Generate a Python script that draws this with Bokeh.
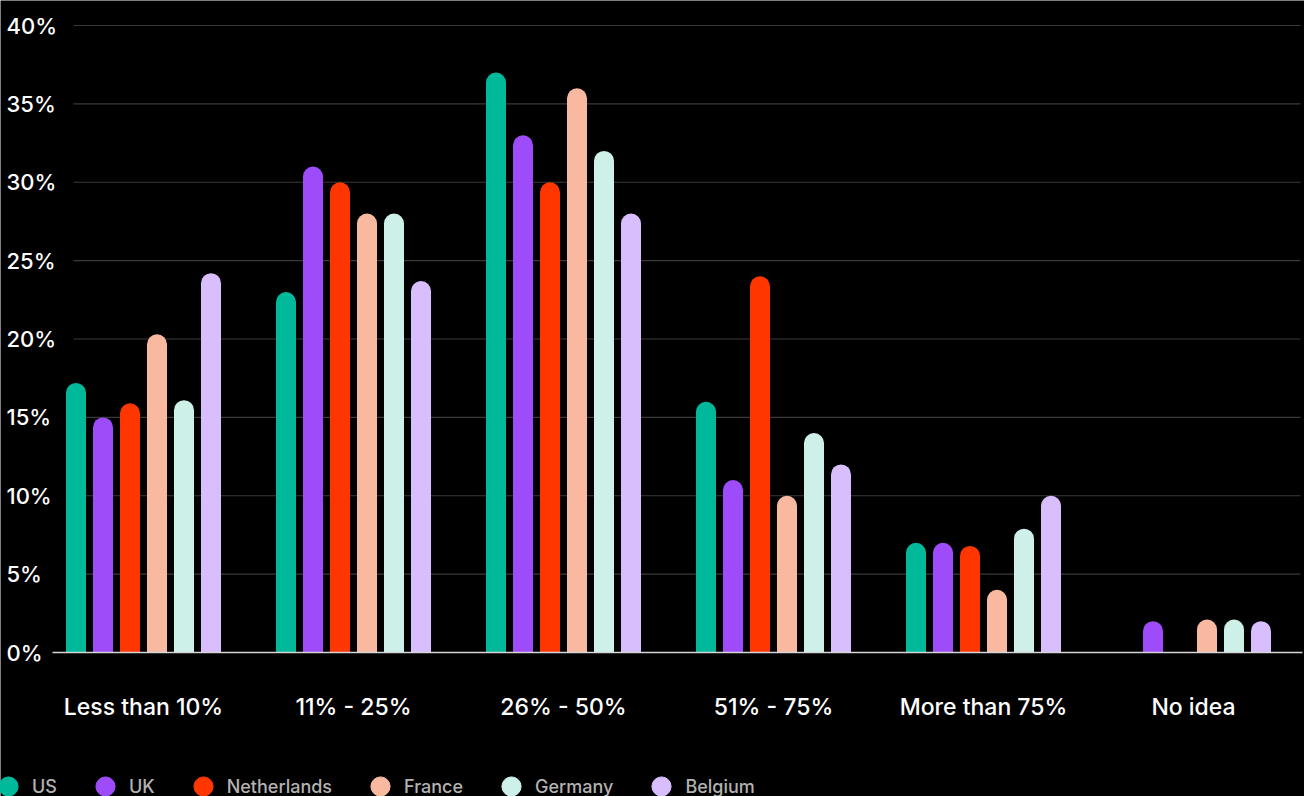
from bokeh.plotting import figure
from bokeh.models import (ColumnDataSource, Range1d, Legend, LegendItem, Label)
from bokeh.transform import dodge
from bokeh.embed import file_html
from bokeh.resources import INLINE

# Share of respondents (%) per answer bucket, by country
categories = ["Less than 10%", "11% - 25%", "26% - 50%", "51% - 75%", "More than 75%", "No idea"]
countries = ["US", "UK", "Netherlands", "France", "Germany", "Belgium"]
colors = ["#00B99B", "#9E4BF9", "#FF3600", "#F9B9A1", "#CDF0E9", "#D9BEFD"]

us = [17.2, 23, 37, 16, 7, 0]
uk = [15, 31, 33, 11, 7, 2]
netherlands = [15.9, 30, 30, 24, 6.8, 0]
france = [20.3, 28, 36, 10, 4, 2.1]
germany = [16.1, 28, 32, 14, 7.9, 2.1]
belgium = [24.2, 23.7, 28, 12, 10, 2]

y_ticks = [0, 5, 10, 15, 20, 25, 30, 35, 40]

series = [us, uk, netherlands, france, germany, belgium]
FONT = "Inter Medium, Inter"
W, H = 1304, 796

# layout (pixels)
group_px = 210.0          # distance between category centres
first_center_px = 143.0   # first category centre from the left edge
zero_px = 652.0           # baseline from the top edge
px_per_pct = 15.675       # vertical scale

x_lo = -first_center_px / group_px
x_hi = (W - first_center_px) / group_px
y_hi = zero_px / px_per_pct
y_lo = -(H - zero_px) / px_per_pct

source = ColumnDataSource(dict(idx=list(range(len(categories))),
                               **{c: s for c, s in zip(countries, series)}))

p = figure(width=W, height=H, output_backend="svg", toolbar_location=None,
           x_range=Range1d(x_lo, x_hi), y_range=Range1d(y_lo, y_hi),
           x_axis_location=None, y_axis_location=None,
           min_border=0)
p.background_fill_color = "black"
p.border_fill_color = "black"
p.outline_line_color = None
p.xgrid.visible = False
p.ygrid.visible = False

# horizontal grid and baseline
grid_span = ((73 - first_center_px) / group_px, (1300 - first_center_px) / group_px)
base_span = ((52 - first_center_px) / group_px, (1302 - first_center_px) / group_px)
p.segment(x0=grid_span[0], x1=grid_span[1], y0=y_ticks[1:], y1=y_ticks[1:],
          line_color="#3a3a3a", line_width=1.2)

# bars, rounded at the top
step = 27 / group_px
bar_w = 20 / group_px
for k, (name, col) in enumerate(zip(countries, colors)):
    p.vbar(x=dodge("idx", (k - 2.5) * step, range=p.x_range), top=name, bottom=0,
           width=bar_w, source=source, fill_color=col, line_color=None,
           border_radius=(10, 10, 0, 0))

p.segment(x0=base_span[0], x1=base_span[1], y0=0, y1=0,
          line_color="#d6d6d6", line_width=1.5)

# y tick labels, left aligned at the page edge
for t in y_ticks:
    p.add_layout(Label(x=6, x_units="screen", y=t, y_units="data", text=f"{t}%",
                       text_align="left", text_baseline="middle", text_color="white",
                       text_font=FONT, text_font_size="22px"))

# category labels under the baseline
for i, c in enumerate(categories):
    p.add_layout(Label(x=i, y=H - 706, y_units="screen", text=c,
                       text_align="center", text_baseline="middle", text_color="white",
                       text_font=FONT, text_font_size="23px"))

# legend with round swatches (hidden renderers only feed the legend)
items = []
for name, col in zip(countries, colors):
    r = p.scatter(x="idx", y=name, source=source, marker="circle", size=19,
                  fill_color=col, line_color=col, visible=False)
    items.append(LegendItem(label=name, renderers=[r]))
legend = Legend(items=items, orientation="horizontal", location=(-16, -14),
                glyph_width=48, glyph_height=48, label_standoff=0, spacing=24,
                padding=0, margin=0, background_fill_alpha=0, border_line_alpha=0,
                label_text_font=FONT, label_text_font_size="18px",
                label_text_color="#b3b3b3")
p.add_layout(legend)

open("out.html", "w").write(file_html(p, INLINE))
